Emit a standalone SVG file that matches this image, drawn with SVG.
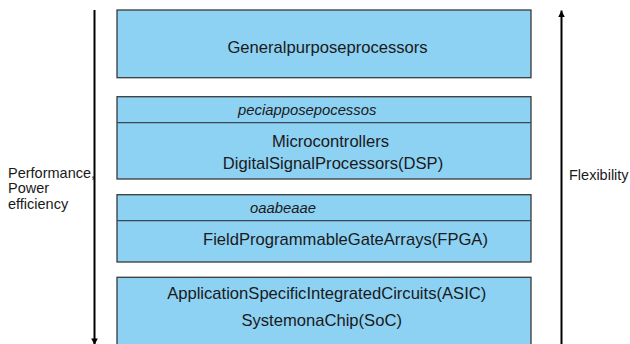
<svg xmlns="http://www.w3.org/2000/svg" width="630" height="344" viewBox="0 0 630 344">
<style>
.box{fill:#8dd1f3;stroke:#3a3a3a;stroke-width:1.3}
.div{stroke:#3a4a55;stroke-width:1.3}
.t{font-family:"Liberation Sans",Arial,sans-serif;font-size:16.6px;fill:#1a1a1a;text-anchor:middle}
.i{font-family:"Liberation Sans",Arial,sans-serif;font-size:14.8px;font-style:italic;fill:#1a1a1a;text-anchor:middle}
.s{font-family:"Liberation Sans",Arial,sans-serif;font-size:14.5px;fill:#1a1a1a}
.ln{stroke:#000;stroke-width:2;fill:none}
</style>
<defs>
<marker id="ah" viewBox="0 0 10 10" refX="10" refY="5" markerWidth="3.3" markerHeight="3.3" orient="auto" markerUnits="strokeWidth">
<path d="M0,0 L10,5 L0,10 z" fill="#000"/>
</marker>
</defs>
<rect width="630" height="344" fill="#fff"/>
<g id="connectors">
<line class="ln" x1="94.5" y1="10" x2="94.5" y2="345" marker-end="url(#ah)"/>
<line class="ln" x1="561.5" y1="350" x2="561.5" y2="10.5" marker-end="url(#ah)"/>
</g>
<g id="general">
<rect class="box" x="117" y="10" width="414" height="67.7"/>
<text class="t" x="327.5" y="52.5">Generalpurposeprocessors</text>
</g>
<g id="special">
<rect class="box" x="117" y="96.7" width="414" height="82.3"/>
<line class="div" x1="117" y1="122.7" x2="531" y2="122.7"/>
<text class="i" x="307.2" y="115">peciapposepocessos</text>
<text class="t" x="330.5" y="147">Microcontrollers</text>
<text class="t" x="333" y="169">DigitalSignalProcessors(DSP)</text>
</g>
<g id="reconfig">
<rect class="box" x="117" y="194.7" width="414" height="67.3"/>
<line class="div" x1="117" y1="220.7" x2="531" y2="220.7"/>
<text class="i" x="283" y="212.7">oaabeaae</text>
<text class="t" x="345.5" y="245">FieldProgrammableGateArrays(FPGA)</text>
</g>
<g id="asic">
<rect class="box" x="117" y="277.3" width="414" height="80"/>
<text class="t" x="326.7" y="299.3">ApplicationSpecificIntegratedCircuits(ASIC)</text>
<text class="t" x="321.7" y="326">SystemonaChip(SoC)</text>
</g>
<g id="perf">
<text class="s" x="8" y="178">Performance,</text>
<text class="s" x="8" y="193.3">Power</text>
<text class="s" x="8" y="208.6">efficiency</text>
</g>
<g id="flex">
<text class="s" x="569" y="180">Flexibility</text>
</g>
</svg>
